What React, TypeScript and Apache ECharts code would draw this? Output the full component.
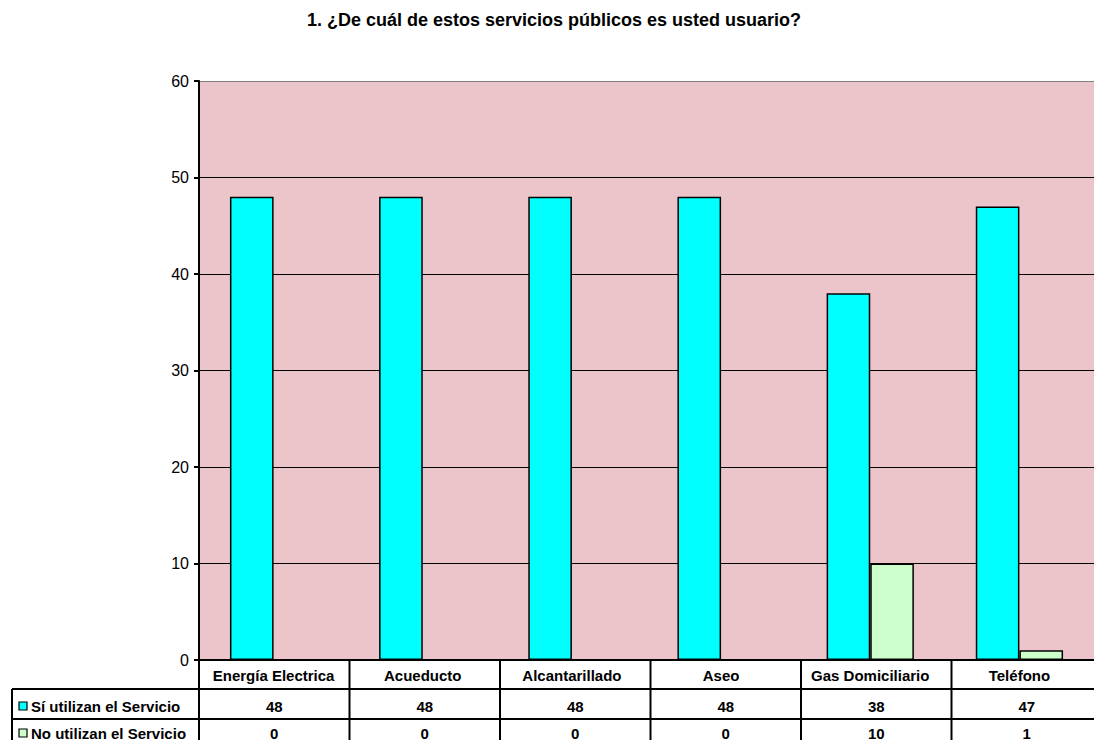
import React, { useEffect, useRef } from "react";
import * as echarts from "echarts";

const title = "1. ¿De cuál de estos servicios públicos es usted usuario?";
const categories = ["Energía Electrica", "Acueducto", "Alcantarillado", "Aseo", "Gas Domiciliario", "Teléfono"];
const seriesNames = ["Sí utilizan el Servicio", "No utilizan el Servicio"];
const siValues = [48, 48, 48, 48, 38, 47];
const noValues = [0, 0, 0, 0, 10, 1];
const seriesColors = ["#00FFFF", "#CCFFCC"];

const FONT = "'Liberation Sans', Arial, sans-serif";

export default function App() {
  const ref = useRef<HTMLDivElement>(null);
  useEffect(() => {
    if (!ref.current) return;
    const chart = echarts.init(ref.current, null, { renderer: "svg" });
    const W = 1094;
    const gridLeft = 199;
    const gridRight = -8;
    const gridTop = 81;
    const gridBottom = 80;
    const axisY = 740 - gridBottom;
    const plotW = W - gridRight - gridLeft;
    const colW = plotW / categories.length;
    const tableLeft = 12;
    const headerBottom = 689;
    const row1Bottom = 719;
    const rowYs = [706, 733];
    const values = [siValues, noValues];

    const graphic: any[] = [];
    const line = (x1: number, y1: number, x2: number, y2: number) =>
      graphic.push({
        type: "line",
        shape: { x1, y1, x2, y2 },
        style: { stroke: "#000", lineWidth: 2 },
        z: 10,
      });
    // title
    graphic.push({
      type: "text",
      x: 554,
      y: 20,
      style: {
        text: title,
        font: `bold 18px ${FONT}`,
        fill: "#000",
        textAlign: "center",
        textVerticalAlign: "middle",
      },
    });
    // table background
    graphic.push({
      type: "rect",
      shape: { x: tableLeft, y: headerBottom, width: W - tableLeft + 10, height: 60 },
      style: { fill: "#fff" },
      z: 5,
    });
    for (let i = 0; i <= categories.length; i++) {
      const x = gridLeft + i * colW;
      line(x, axisY, x, 745);
    }
    line(tableLeft, headerBottom, W + 10, headerBottom);
    line(tableLeft, row1Bottom, W + 10, row1Bottom);
    line(tableLeft, headerBottom, tableLeft, 745);
    seriesNames.forEach((name, r) => {
      graphic.push({
        type: "rect",
        shape: { x: 19, y: rowYs[r] - 4, width: 8, height: 8 },
        style: { fill: seriesColors[r], stroke: "#000", lineWidth: 1.2 },
        z: 11,
      });
      graphic.push({
        type: "text",
        x: 31,
        y: rowYs[r],
        style: {
          text: name,
          font: `bold 15px ${FONT}`,
          fill: "#000",
          textAlign: "left",
          textVerticalAlign: "middle",
        },
        z: 11,
      });
      values[r].forEach((v, i) => {
        graphic.push({
          type: "text",
          x: gridLeft + (i + 0.5) * colW,
          y: rowYs[r],
          style: {
            text: String(v),
            font: `bold 15px ${FONT}`,
            fill: "#000",
            textAlign: "center",
            textVerticalAlign: "middle",
          },
          z: 11,
        });
      });
    });

    chart.setOption({
      animation: false,
      backgroundColor: "#fff",
      textStyle: { fontFamily: FONT },
      grid: {
        left: gridLeft,
        right: gridRight,
        top: gridTop,
        bottom: gridBottom,
        show: true,
        backgroundColor: "#EBC5C9",
        borderWidth: 0,
      },
      xAxis: {
        type: "category",
        data: categories,
        axisLine: { show: true, lineStyle: { color: "#000", width: 2 } },
        axisTick: { show: false },
        axisLabel: {
          color: "#000",
          fontWeight: "bold",
          fontSize: 15,
          fontFamily: FONT,
          margin: 8,
          interval: 0,
        },
        splitLine: { show: false },
      },
      yAxis: {
        type: "value",
        min: 0,
        max: 60,
        interval: 10,
        axisLine: { show: true, lineStyle: { color: "#000", width: 2 } },
        axisTick: { show: true, length: 5, lineStyle: { color: "#000", width: 2 } },
        axisLabel: { color: "#000", fontSize: 16, fontFamily: FONT, margin: 10 },
        splitLine: {
          show: true,
          lineStyle: {
            color: ["#000", "#000", "#000", "#000", "#000", "#000", "#808080"],
            width: 1,
          },
        },
      },
      series: [
        {
          name: seriesNames[0],
          type: "bar",
          data: siValues,
          barGap: "0%",
          barCategoryGap: "41.5%",
          itemStyle: { color: seriesColors[0], borderColor: "#000", borderWidth: 1.5 },
        },
        {
          name: seriesNames[1],
          type: "bar",
          data: noValues,
          barGap: "0%",
          barCategoryGap: "41.5%",
          itemStyle: { color: seriesColors[1], borderColor: "#000", borderWidth: 1.5 },
        },
      ],
      graphic,
    });
    return () => chart.dispose();
  }, []);
  return (
    <div style={{ position: "fixed", left: 0, top: 0, width: 1094, height: 740, overflow: "hidden" }}>
      <div ref={ref} style={{ width: 1094, height: 740 }} />
    </div>
  );
}
